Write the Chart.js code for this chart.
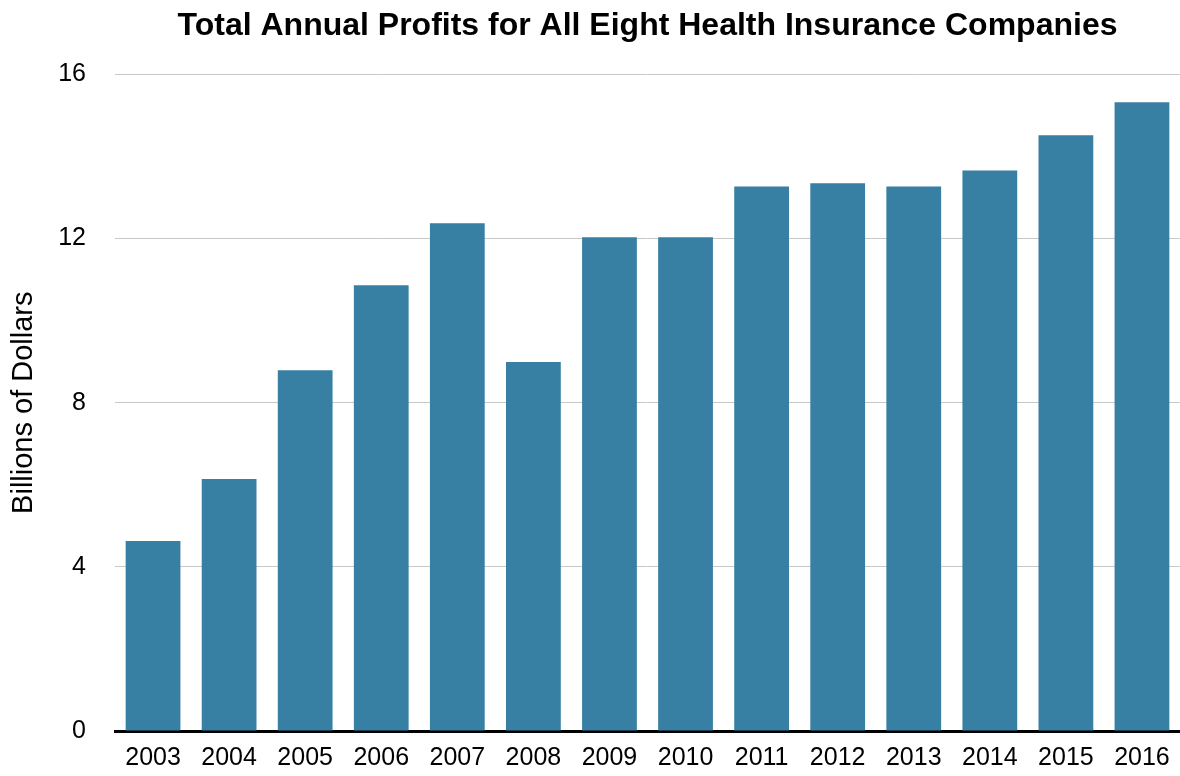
<!DOCTYPE html>
<html><head><meta charset="utf-8">
<script src="https://cdn.jsdelivr.net/npm/chart.js@4.4.1/dist/chart.umd.min.js"></script>
<style>html,body{margin:0;padding:0;background:#fff}#wrap{width:1180px;height:776px}</style>
</head><body><div id="wrap"><canvas id="c" width="1180" height="776"></canvas></div>
<script>
const years = ["2003","2004","2005","2006","2007","2008","2009","2010","2011","2012","2013","2014","2015","2016"];
const profits = [4.63,6.14,8.79,10.86,12.37,8.99,12.03,12.03,13.27,13.35,13.27,13.66,14.52,15.32];
const yTicks = [0,4,8,12,16];
const FONT = "'Liberation Sans', Arial, Helvetica, sans-serif";

new Chart(document.getElementById('c'), {
  type: 'bar',
  data: { labels: years, datasets: [{ data: profits, backgroundColor: '#377fa3', barPercentage: 0.72, categoryPercentage: 1.0 }] },
  options: {
    responsive: false, animation: false,
    layout: { padding: { top: 7, right: 0, bottom: 3, left: 0 } },
    plugins: {
      legend: { display: false }, tooltip: { enabled: false },
      title: { display: true, fullSize: false, text: 'Total Annual Profits for All Eight Health Insurance Companies',
        color: '#000', font: { family: FONT, size: 32, weight: 'bold' }, padding: { top: 0, bottom: 29 } }
    },
    scales: {
      x: {
        afterFit: s => { s.height = 42; s.paddingLeft = 0; s.paddingRight = 0; },
        grid: { display: false, drawTicks: false },
        border: { display: true, color: '#000', width: 3 },
        ticks: { color: '#000', font: { family: FONT, size: 25, lineHeight: 1 }, padding: 15, maxRotation: 0 }
      },
      y: {
        min: 0, max: 16,
        afterBuildTicks: s => { s.ticks = yTicks.map(v => ({ value: v })); },
        afterFit: s => { s.width = 115; s.paddingBottom = 0; s.paddingTop = 0; },
        grid: { color: '#c8c8c8', lineWidth: 1, drawTicks: false },
        border: { display: false },
        ticks: { color: '#000', font: { family: FONT, size: 25 }, padding: 29 },
        title: { display: true, text: 'Billions of Dollars', color: '#000', font: { family: FONT, size: 29 }, padding: { top: 7, bottom: 0 } }
      }
    }
  }
});
</script></body></html>
